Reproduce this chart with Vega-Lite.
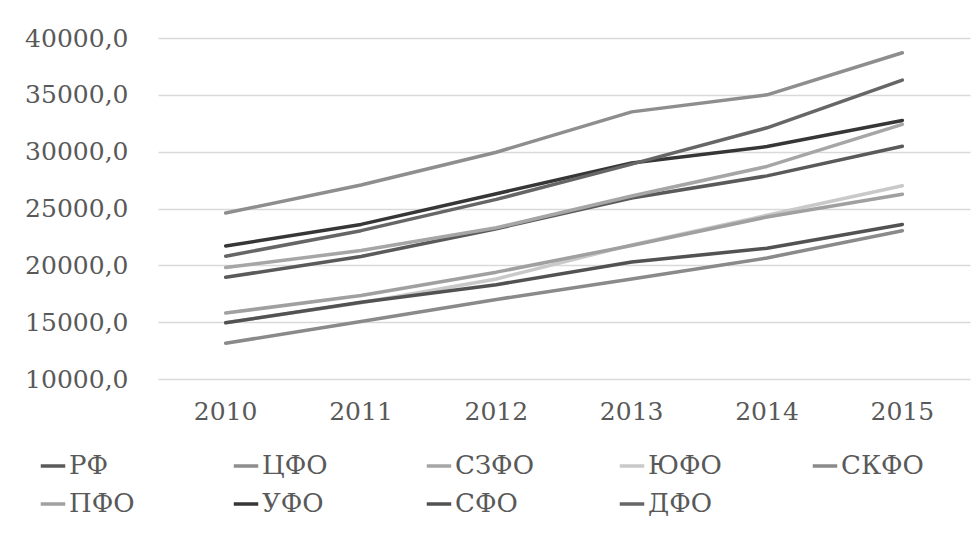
{
  "$schema": "https://vega.github.io/schema/vega-lite/v6.json",
  "width": 812,
  "height": 341,
  "autosize": {"type": "none"},
  "padding": {"left": 158, "top": 38, "right": 8, "bottom": 154},
  "background": "white",
  "config": {
    "view": {"stroke": null},
    "font": "DejaVu Serif"
  },
  "data": {
    "values": [
      {"year": "2010", "region": "РФ", "value": 18950},
      {"year": "2011", "region": "РФ", "value": 20780},
      {"year": "2012", "region": "РФ", "value": 23220},
      {"year": "2013", "region": "РФ", "value": 25930},
      {"year": "2014", "region": "РФ", "value": 27870},
      {"year": "2015", "region": "РФ", "value": 30470},
      {"year": "2010", "region": "ЦФО", "value": 24600},
      {"year": "2011", "region": "ЦФО", "value": 27070},
      {"year": "2012", "region": "ЦФО", "value": 29950},
      {"year": "2013", "region": "ЦФО", "value": 33500},
      {"year": "2014", "region": "ЦФО", "value": 35000},
      {"year": "2015", "region": "ЦФО", "value": 38700},
      {"year": "2010", "region": "СЗФО", "value": 19800},
      {"year": "2011", "region": "СЗФО", "value": 21300},
      {"year": "2012", "region": "СЗФО", "value": 23300},
      {"year": "2013", "region": "СЗФО", "value": 26100},
      {"year": "2014", "region": "СЗФО", "value": 28700},
      {"year": "2015", "region": "СЗФО", "value": 32400},
      {"year": "2010", "region": "ЮФО", "value": 14950},
      {"year": "2011", "region": "ЮФО", "value": 16700},
      {"year": "2012", "region": "ЮФО", "value": 18800},
      {"year": "2013", "region": "ЮФО", "value": 21800},
      {"year": "2014", "region": "ЮФО", "value": 24400},
      {"year": "2015", "region": "ЮФО", "value": 27000},
      {"year": "2010", "region": "СКФО", "value": 13150},
      {"year": "2011", "region": "СКФО", "value": 15050},
      {"year": "2012", "region": "СКФО", "value": 17000},
      {"year": "2013", "region": "СКФО", "value": 18800},
      {"year": "2014", "region": "СКФО", "value": 20650},
      {"year": "2015", "region": "СКФО", "value": 23050},
      {"year": "2010", "region": "ПФО", "value": 15800},
      {"year": "2011", "region": "ПФО", "value": 17350},
      {"year": "2012", "region": "ПФО", "value": 19400},
      {"year": "2013", "region": "ПФО", "value": 21750},
      {"year": "2014", "region": "ПФО", "value": 24250},
      {"year": "2015", "region": "ПФО", "value": 26250},
      {"year": "2010", "region": "УФО", "value": 21700},
      {"year": "2011", "region": "УФО", "value": 23600},
      {"year": "2012", "region": "УФО", "value": 26300},
      {"year": "2013", "region": "УФО", "value": 29000},
      {"year": "2014", "region": "УФО", "value": 30450},
      {"year": "2015", "region": "УФО", "value": 32750},
      {"year": "2010", "region": "СФО", "value": 14950},
      {"year": "2011", "region": "СФО", "value": 16750},
      {"year": "2012", "region": "СФО", "value": 18300},
      {"year": "2013", "region": "СФО", "value": 20300},
      {"year": "2014", "region": "СФО", "value": 21500},
      {"year": "2015", "region": "СФО", "value": 23600},
      {"year": "2010", "region": "ДФО", "value": 20800},
      {"year": "2011", "region": "ДФО", "value": 23050},
      {"year": "2012", "region": "ДФО", "value": 25800},
      {"year": "2013", "region": "ДФО", "value": 28900},
      {"year": "2014", "region": "ДФО", "value": 32100},
      {"year": "2015", "region": "ДФО", "value": 36300}
    ]
  },
  "mark": {"type": "line", "strokeWidth": 3.5, "strokeCap": "round", "strokeJoin": "round"},
  "encoding": {
    "x": {
      "field": "year",
      "type": "ordinal",
      "scale": {"type": "band", "paddingInner": 0, "paddingOuter": 0},
      "axis": {
        "title": null,
        "labelAngle": 0,
        "domain": false,
        "ticks": false,
        "grid": false,
        "labelFont": "DejaVu Serif",
        "labelFontSize": 25,
        "labelColor": "#595959",
        "labelPadding": 20
      }
    },
    "y": {
      "field": "value",
      "type": "quantitative",
      "scale": {"domain": [10000, 40000], "nice": false, "zero": false},
      "axis": {
        "title": null,
        "values": [10000, 15000, 20000, 25000, 30000, 35000, 40000],
        "labelExpr": "replace(format(datum.value, '.1f'), '.', ',')",
        "domain": false,
        "ticks": false,
        "grid": true,
        "gridColor": "#d9d9d9",
        "gridWidth": 1.5,
        "labelFont": "DejaVu Serif",
        "labelFontSize": 25,
        "labelColor": "#595959",
        "labelPadding": 30
      }
    },
    "color": {
      "field": "region",
      "type": "nominal",
      "scale": {
        "domain": ["РФ", "ЦФО", "СЗФО", "ЮФО", "СКФО", "ПФО", "УФО", "СФО", "ДФО"],
        "range": ["#5a5a5a", "#8e8e8e", "#a6a6a6", "#c9c9c9", "#8a8a8a", "#a0a0a0", "#363636", "#525252", "#666666"]
      },
      "legend": {
        "title": null,
        "orient": "none",
        "legendX": -119,
        "legendY": 414,
        "direction": "horizontal",
        "columns": 5,
        "gridAlign": "all",
        "columnPadding": 74,
        "rowPadding": 11,
        "symbolType": "stroke",
        "symbolSize": 600,
        "symbolStrokeWidth": 3.5,
        "labelFont": "DejaVu Serif",
        "labelFontSize": 26,
        "labelColor": "#595959",
        "labelOffset": 2
      }
    }
  }
}
